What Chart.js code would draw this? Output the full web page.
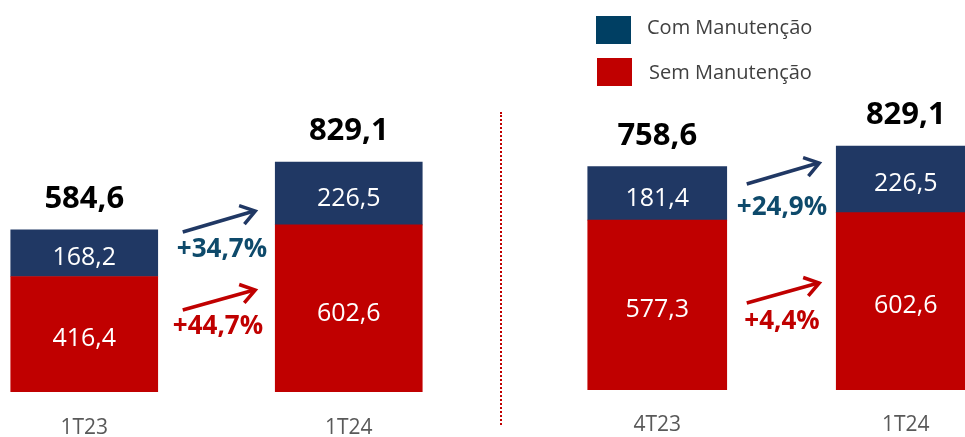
<!DOCTYPE html>
<html><head><meta charset="utf-8">
<script src="https://cdn.jsdelivr.net/npm/chart.js@4.4.1/dist/chart.umd.min.js"></script>
<style>
html,body{margin:0;padding:0;width:965px;height:437px;overflow:hidden;background:#fff;font-family:'Open Sans',sans-serif;position:relative;}
canvas{position:absolute;top:0;}
#c1{left:-48px;}
#c2{left:533px;}
#divider{position:absolute;left:500px;top:112px;height:313px;border-left:2px dotted #c00000;}
.sw{position:absolute;width:35px;height:28px;}
.lt{position:absolute;font-size:20px;color:#404040;line-height:26px;white-space:nowrap;}
</style></head>
<body>
<canvas id="c1" width="529" height="437"></canvas>
<canvas id="c2" width="497" height="437"></canvas>
<div id="divider"></div>
<div class="sw" style="left:596px;top:16px;background:#003f63"></div>
<div class="lt" id="l1" style="left:647px;top:14px;"></div>
<div class="sw" style="left:597px;top:58px;background:#c00000"></div>
<div class="lt" id="l2" style="left:649px;top:59px;"></div>
<script>
const seriesNames = ['Com Manutenção', 'Sem Manutenção'];
const categoriesA = ['1T23', '1T24'];
const comA = [168.2, 226.5];
const semA = [416.4, 602.6];
const totalsA = [584.6, 829.1];
const growthA = ['+34,7%', '+44,7%'];
const categoriesB = ['4T23', '1T24'];
const comB = [181.4, 226.5];
const semB = [577.3, 602.6];
const totalsB = [758.6, 829.1];
const growthB = ['+24,9%', '+4,4%'];

document.getElementById('l1').textContent = seriesNames[0];
document.getElementById('l2').textContent = seriesNames[1];

const BLUE = '#203864', RED = '#c00000', PCTBLUE = '#0e4a6b';
const FONT = "'Open Sans', sans-serif";
const fmt = v => v.toFixed(1).replace('.', ',');

function drawArrow(ctx, x1, y1, x2, y2, color) {
  ctx.save();
  ctx.strokeStyle = color; ctx.lineWidth = 3.5; ctx.lineCap = 'butt'; ctx.lineJoin = 'miter';
  ctx.beginPath(); ctx.moveTo(x1, y1); ctx.lineTo(x2 - 1, y2); ctx.stroke();
  const a = Math.atan2(y2 - y1, x2 - x1), L = 17, s = 0.6;
  ctx.beginPath();
  ctx.moveTo(x2 - L * Math.cos(a - s), y2 - L * Math.sin(a - s));
  ctx.lineTo(x2, y2);
  ctx.lineTo(x2 - L * Math.cos(a + s), y2 - L * Math.sin(a + s));
  ctx.stroke();
  ctx.restore();
}

const labelsPlugin = {
  id: 'labelsPlugin',
  afterDatasetsDraw(chart, args, opts) {
    const ctx = chart.ctx;
    const metaTop = chart.getDatasetMeta(1);
    ctx.save();
    ctx.textAlign = 'center'; ctx.textBaseline = 'middle';
    [0, 1].forEach(d => {
      const meta = chart.getDatasetMeta(d);
      meta.data.forEach((el, i) => {
        const v = chart.data.datasets[d].data[i];
        ctx.fillStyle = '#ffffff';
        ctx.font = "400 25px " + FONT;
        ctx.fillText(fmt(v), el.x, (el.y + el.base) / 2 + 5);
      });
    });
    metaTop.data.forEach((el, i) => {
      ctx.fillStyle = '#000000';
      ctx.font = "700 31px " + FONT;
      ctx.fillText(fmt(opts.totals[i]), el.x, el.y - 31);
    });
    const xs = chart.scales.x;
    chart.data.labels.forEach((lab, i) => {
      ctx.fillStyle = '#595959';
      ctx.font = "400 21px " + FONT;
      ctx.fillText(lab, xs.getPixelForValue(i), chart.chartArea.bottom + opts.catOffset);
    });
    const b0 = metaTop.data[0], b1 = metaTop.data[1];
    const x1 = b0.x + b0.width / 2 + opts.gapL;
    const x2 = b1.x - b1.width / 2 - opts.gapR;
    opts.arrows.forEach((ar, k) => {
      drawArrow(ctx, x1, ar.y1, x2, ar.y2, ar.color);
      ctx.fillStyle = ar.textColor;
      ctx.font = "700 26px " + FONT;
      ctx.fillText(opts.growth[k], (x1 + x2) / 2 + ar.dx, ar.ty);
    });
    ctx.restore();
  }
};

function makeChart(id, cats, sem, com, totals, growth, yMax, barW, ann) {
  return new Chart(document.getElementById(id), {
    type: 'bar',
    data: {
      labels: cats,
      datasets: [
        { label: seriesNames[1], data: sem, backgroundColor: RED, borderWidth: 0, barThickness: barW },
        { label: seriesNames[0], data: com, backgroundColor: BLUE, borderWidth: 0, barThickness: barW }
      ]
    },
    options: {
      responsive: false, animation: false,
      layout: { padding: { top: 0, bottom: ann.padBottom, left: 0, right: 0 } },
      plugins: { legend: { display: false }, tooltip: { enabled: false },
        labelsPlugin: Object.assign({ totals: totals, growth: growth }, ann) },
      scales: {
        x: { stacked: true, display: false },
        y: { stacked: true, display: false, min: 0, max: yMax }
      }
    },
    plugins: [labelsPlugin]
  });
}

makeChart('c1', categoriesA, semA, comA, totalsA, growthA, 1413, 147, {
  padBottom: 45, catOffset: 36, gapL: 25, gapR: 20,
  arrows: [
    { y1: 232, y2: 211, color: BLUE, textColor: PCTBLUE, ty: 250, dx: 3 },
    { y1: 310, y2: 290, color: RED, textColor: RED, ty: 327, dx: -1 }
  ]
});
makeChart('c2', categoriesB, semB, comB, totalsB, growthB, 1325, 139, {
  padBottom: 47, catOffset: 35, gapL: 20, gapR: 17,
  arrows: [
    { y1: 184, y2: 163, color: BLUE, textColor: PCTBLUE, ty: 208, dx: -1 },
    { y1: 303, y2: 283, color: RED, textColor: RED, ty: 322, dx: -1 }
  ]
});
</script>
</body></html>
